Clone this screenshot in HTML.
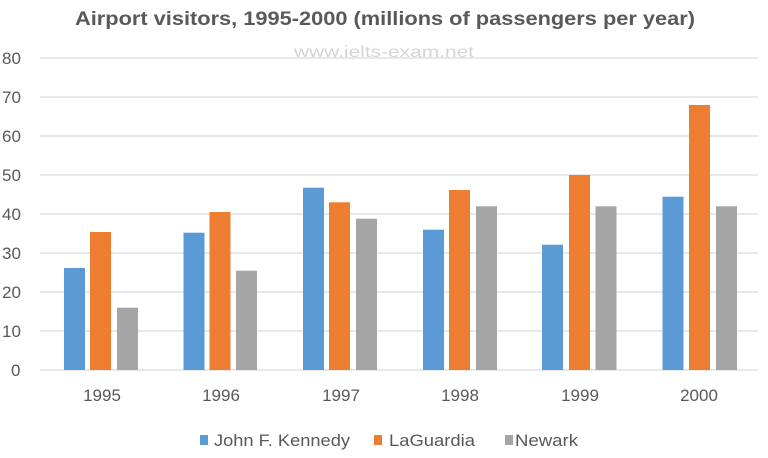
<!DOCTYPE html>
<html><head><meta charset="utf-8"><style>body{margin:0;background:#fff}svg{display:block}</style></head>
<body>
<svg width="768" height="458" xmlns="http://www.w3.org/2000/svg" font-family="Liberation Sans, sans-serif">
<rect width="768" height="458" fill="#fff"/>
<text x="385" y="25" text-anchor="middle" font-size="19" font-weight="bold" fill="#595959" textLength="620" lengthAdjust="spacingAndGlyphs">Airport visitors, 1995-2000 (millions of passengers per year)</text>
<text x="384" y="57" text-anchor="middle" font-size="16" fill="#d4d4d4" textLength="180" lengthAdjust="spacingAndGlyphs">www.ielts-exam.net</text>
<g stroke="#d9d9d9" stroke-width="1.2">
<line x1="40" x2="758" y1="58" y2="58"/><line x1="40" x2="758" y1="97" y2="97"/>
<line x1="40" x2="758" y1="136" y2="136"/><line x1="40" x2="758" y1="175" y2="175"/>
<line x1="40" x2="758" y1="214" y2="214"/><line x1="40" x2="758" y1="253" y2="253"/>
<line x1="40" x2="758" y1="292" y2="292"/><line x1="40" x2="758" y1="331" y2="331"/>
<line x1="40" x2="758" y1="370" y2="370"/>
</g>
<g font-size="17" fill="#595959">
<text x="2" y="64">80</text><text x="2" y="103">70</text><text x="2" y="142">60</text>
<text x="2" y="181">50</text><text x="2" y="220">40</text><text x="2" y="259">30</text>
<text x="2" y="298">20</text><text x="2" y="337">10</text><text x="11" y="376">0</text>
</g>
<g fill="#5b9bd5">
<rect x="64" y="268" width="21" height="102"/>
<rect x="183.5" y="232.7" width="21" height="137.3"/>
<rect x="303" y="187.7" width="21" height="182.3"/>
<rect x="423" y="229.7" width="21" height="140.3"/>
<rect x="542" y="244.7" width="21" height="125.3"/>
<rect x="662.5" y="196.7" width="21" height="173.3"/>
</g>
<g fill="#ed7d31">
<rect x="90" y="232" width="21" height="138"/>
<rect x="209.5" y="212" width="21" height="158"/>
<rect x="329" y="202.3" width="21" height="167.7"/>
<rect x="449" y="190" width="21" height="180"/>
<rect x="569" y="175" width="21" height="195"/>
<rect x="689" y="105" width="21" height="265"/>
</g>
<g fill="#a5a5a5">
<rect x="117" y="307.7" width="21" height="62.3"/>
<rect x="236" y="270.7" width="21" height="99.3"/>
<rect x="356" y="218.7" width="21" height="151.3"/>
<rect x="476" y="206.3" width="21" height="163.7"/>
<rect x="595.5" y="206.3" width="21" height="163.7"/>
<rect x="716" y="206.3" width="21" height="163.7"/>
</g>
<g font-size="17" fill="#595959" text-anchor="middle">
<text x="102" y="401">1995</text><text x="221" y="401">1996</text><text x="341" y="401">1997</text>
<text x="460" y="401">1998</text><text x="580" y="401">1999</text><text x="699" y="401">2000</text>
</g>
<rect x="200" y="435" width="8" height="10" fill="#5b9bd5"/>
<rect x="374" y="435" width="8" height="10" fill="#ed7d31"/>
<rect x="505" y="435" width="8" height="10" fill="#a5a5a5"/>
<g font-size="17" fill="#595959">
<text x="214" y="446" textLength="136" lengthAdjust="spacingAndGlyphs">John F. Kennedy</text>
<text x="389" y="446" textLength="86" lengthAdjust="spacingAndGlyphs">LaGuardia</text>
<text x="515" y="446" textLength="63" lengthAdjust="spacingAndGlyphs">Newark</text>
</g>
</svg>
</body></html>
